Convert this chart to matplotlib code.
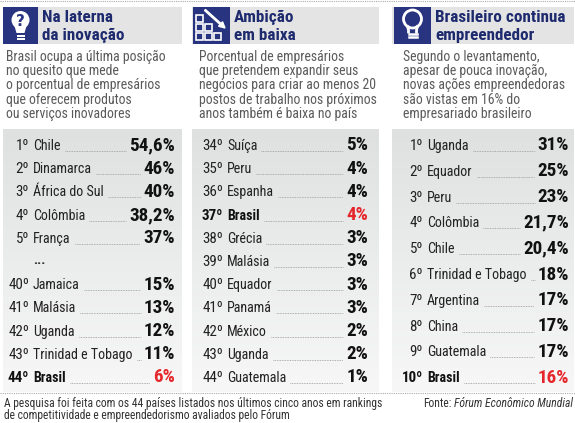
import numpy as np
import matplotlib
matplotlib.use("Agg")
import matplotlib.pyplot as plt
from matplotlib import font_manager
from matplotlib.patches import Rectangle, Circle, Polygon, FancyArrow

# ---- dados ----
titulos = ["Na laterna\nda inovação", "Ambição\nem baixa", "Brasileiro continua\nempreendedor"]
descricoes = [
    ["Brasil ocupa a última posição", "no quesito que mede", "o porcentual de empresários",
     "que oferecem produtos", "ou serviços inovadores"],
    ["Porcentual de empresários", "que pretendem expandir seus", "negócios para criar ao menos 20",
     "postos de trabalho nos próximos", "anos também é baixa no país"],
    ["Segundo o levantamento,", "apesar de pouca inovação,", "novas ações empreendedoras",
     "são vistas em 16% do", "empresariado brasileiro"],
]

inov_pos = [1, 2, 3, 4, 5, 40, 41, 42, 43, 44]
inov_pais = ["Chile", "Dinamarca", "África do Sul", "Colômbia", "França",
             "Jamaica", "Malásia", "Uganda", "Trinidad e Tobago", "Brasil"]
inov_valor = [54.6, 46, 40, 38.2, 37, 15, 13, 12, 11, 6]

amb_pos = [34, 35, 36, 37, 38, 39, 40, 41, 42, 43, 44]
amb_pais = ["Suíça", "Peru", "Espanha", "Brasil", "Grécia", "Malásia",
            "Equador", "Panamá", "México", "Uganda", "Guatemala"]
amb_valor = [5, 4, 4, 4, 3, 3, 3, 3, 2, 2, 1]

emp_pos = [1, 2, 3, 4, 5, 6, 7, 8, 9, 10]
emp_pais = ["Uganda", "Equador", "Peru", "Colômbia", "Chile", "Trinidad e Tobago",
            "Argentina", "China", "Guatemala", "Brasil"]
emp_valor = [31, 25, 23, 21.7, 20.4, 18, 17, 17, 17, 16]

nota = ["A pesquisa foi feita com os 44 países listados nos últimos cinco anos em rankings",
        "de competitividade e empreendedorismo avaliados pelo Fórum"]

# ---- fonte: tenta uma familia condensada ----
nomes = {f.name for f in font_manager.fontManager.ttflist}
preferidas = ["Roboto Condensed", "Liberation Sans Narrow", "Open Sans Condensed",
              "DejaVu Sans Condensed", "Noto Sans Condensed", "Arial Narrow"]
FONTE = next((n for n in preferidas if n in nomes), None)
ESTICA = "normal"
if FONTE is None:
    cond = [f.name for f in font_manager.fontManager.ttflist
            if "ondensed" in str(f.stretch) or "Condensed" in f.name or "Narrow" in f.name]
    if cond:
        FONTE = cond[0]
    else:
        FONTE = "DejaVu Sans"
        ESTICA = "condensed"
plt.rcParams["font.family"] = [FONTE, "DejaVu Sans"]
plt.rcParams["font.stretch"] = ESTICA

AZUL = "#283480"
AZUL_TXT = "#1e2a6e"
CINZA_TXT = "#5a5a5a"
VERMELHO = "#e5262b"


def fmt(v):
    return f"{v:g}".replace(".", ",") + "%"


fig = plt.figure(figsize=(5.75, 4.23), dpi=100)
ax = fig.add_axes([0, 0, 1, 1])
ax.set_xlim(0, 575)
ax.set_ylim(423, 0)
ax.axis("off")
rend = fig.canvas.get_renderer()
inv = ax.transData.inverted()


def extensao(t):
    bb = t.get_window_extent(rend)
    (xa, _), (xb, _) = inv.transform([[bb.x0, bb.y0], [bb.x1, bb.y1]])
    return xa, xb


def ajusta(texto, alvo, peso="normal", tam0=10.0):
    # tamanho de fonte para que o texto ocupe a largura vista na referencia
    t = ax.text(0, 0, texto, fontsize=tam0, fontweight=peso)
    xa, xb = extensao(t)
    t.remove()
    return tam0 * alvo / (xb - xa)


T_TIT = min(ajusta("Brasileiro continua", 130, "bold"), 14.5)
T_DESC = min(ajusta("negócios para criar ao menos 20", 176), 12.5)
T_PAIS = min(ajusta("Trinidad e Tobago", 100), 15)
T_POS = min(ajusta("43º", 21), T_PAIS * 1.08)
T_VAL = min(ajusta("38,2%", 46, "bold"), 17)
T_NOTA = min(ajusta(nota[0], 379), 8.5)

# linhas pontilhadas de cima e de baixo
ax.plot([0, 575], [1.5, 1.5], color="#aaaaaa", lw=0.8, ls=(0, (1, 1)))
ax.plot([0, 575], [393, 393], color="#aaaaaa", lw=0.8, ls=(0, (1, 1)))

paineis = [
    dict(x0=3, x1=182, icone=(3, 38), desc_x=6, pos_r=29, pais_x=33, val_r=175),
    dict(x0=192, x1=379, icone=(193, 230), desc_x=199, pos_r=223, pais_x=227, val_r=368),
    dict(x0=392, x1=574, icone=(394, 431), desc_x=403, pos_r=423, pais_x=427, val_r=569),
]

grad = np.linspace(0, 1, 100).reshape(-1, 1)
cmap_fundo = matplotlib.colors.LinearSegmentedColormap.from_list("f", ["#dfe1e1", "#f7f7f7"])

for i, p in enumerate(paineis):
    # faixa do titulo
    ax.add_patch(Rectangle((p["x0"], 7), p["x1"] - p["x0"], 37, color="#e4e4e4", lw=0))
    ia, ib = p["icone"]
    ax.add_patch(Rectangle((ia, 7), ib - ia, 37, color=AZUL, lw=0))
    for k, linha in enumerate(titulos[i].split("\n")):
        ax.text(ib + 4, 17.5 + 18 * k, linha, color=AZUL_TXT, fontsize=T_TIT,
                fontweight="bold", va="center", ha="left")
    # descricao
    for k, linha in enumerate(descricoes[i]):
        ax.text(p["desc_x"], 57 + 14.2 * k, linha, color=CINZA_TXT, fontsize=T_DESC,
                va="center", ha="left")
    # fundo da tabela
    ax.imshow(grad, extent=(p["x0"], p["x1"], 392, 129), cmap=cmap_fundo, aspect="auto",
              zorder=0, interpolation="bicubic")

# icone 1: lampada com interrogacao
cx, cy = 20.5, 20
ax.add_patch(Circle((cx, cy), 9, color="white", lw=0))
ax.add_patch(Polygon([[cx - 6, cy + 6], [cx + 6, cy + 6], [cx + 4, cy + 13], [cx - 4, cy + 13]],
                     color="white", lw=0))
for yy in (35, 38):
    ax.add_patch(Rectangle((cx - 4, yy), 8, 2, color="white", lw=0))
ax.text(cx, cy + 1, "?", color=AZUL, fontsize=11, fontweight="bold", ha="center", va="center",
        family="DejaVu Sans")

# icone 2: barras descendentes com seta
lado = 7
for col, altura in enumerate([3, 2, 1]):
    for lin in range(altura):
        x = 196 + col * (lado + 2)
        y = 40 - (lin + 1) * (lado + 2) + 2
        ax.add_patch(Rectangle((x, y), lado, lado, fill=False, ec="white", lw=1.2))
ax.add_patch(FancyArrow(205, 10, 20, 18, width=1.4, head_width=6, head_length=6,
                        color="white", length_includes_head=True))

# icone 3: lampada contorno
cx, cy = 412.5, 19
ax.add_patch(Circle((cx, cy), 9, fill=False, ec="white", lw=2))
ax.plot([cx - 5, cx - 4, cx - 4], [cy + 7.5, cy + 11, cy + 13], color="white", lw=2)
ax.plot([cx + 5, cx + 4, cx + 4], [cy + 7.5, cy + 11, cy + 13], color="white", lw=2)
for yy in (34, 37.5):
    ax.plot([cx - 4, cx + 4], [yy, yy], color="white", lw=1.8)


# ---- tabelas ----
def tabela(p, posicoes, paises, valores, ys):
    for pos, pais, val, y in zip(posicoes, paises, valores, ys):
        brasil = pais == "Brasil"
        peso = "bold" if brasil else "normal"
        cor = "#111111" if brasil else "#222222"
        ax.text(p["pos_r"], y, f"{pos}º", ha="right", va="center", fontsize=T_POS,
                fontweight=peso, color=cor)
        tp = ax.text(p["pais_x"], y, pais, ha="left", va="center", fontsize=T_PAIS,
                     fontweight=peso, color=cor)
        tv = ax.text(p["val_r"], y - 0.5, fmt(val), ha="right", va="center", fontsize=T_VAL,
                     fontweight="bold", color=VERMELHO if brasil else "#111111")
        _, fim_pais = extensao(tp)
        ini_val, _ = extensao(tv)
        ax.plot([fim_pais + 4, ini_val - 3], [y + 5, y + 5], color="#999999", lw=0.6,
                ls=(0, (1, 1)))


ys12 = [146 + 23.2 * k for k in range(11)]
ys_inov = ys12[:5] + ys12[6:]
tabela(paineis[0], inov_pos, inov_pais, inov_valor, ys_inov)
ax.text(paineis[0]["pais_x"], ys12[5] - 2, "...", ha="left", va="center", fontsize=T_PAIS,
        fontweight="bold", color="#222222")
tabela(paineis[1], amb_pos, amb_pais, amb_valor, ys12)
tabela(paineis[2], emp_pos, emp_pais, emp_valor, [146 + 25.8 * k for k in range(10)])

# ---- rodape ----
for k, linha in enumerate(nota):
    ax.text(4, 403.5 + 12 * k, linha, ha="left", va="center", fontsize=T_NOTA, color="#333333")
t1 = ax.text(573, 403.5, "Fórum Econômico Mundial", ha="right", va="center",
             fontsize=T_NOTA, color="#333333", style="italic")
xa, _ = extensao(t1)
ax.text(xa - 2, 403.5, "Fonte:", ha="right", va="center", fontsize=T_NOTA, color="#333333")

fig.savefig("out.png", dpi=100)
